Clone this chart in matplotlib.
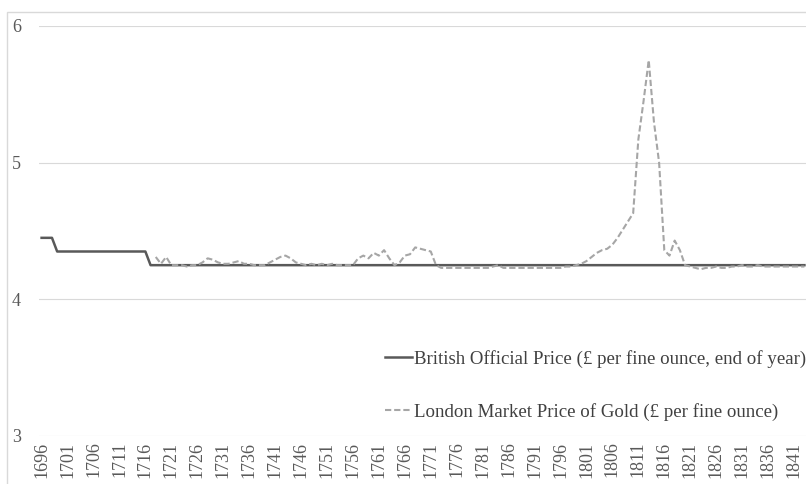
import numpy as np
import matplotlib
matplotlib.use("Agg")
import matplotlib.pyplot as plt
from matplotlib.patches import Rectangle

plt.rcParams['font.family'] = ['Liberation Serif', 'DejaVu Serif']

# categories: one per year
years = list(range(1696, 1844))

# British official price, step changes in 1699 and 1717
official = [4.45, 4.45, 4.45] + [4.35] * 18 + [4.25] * 127

# London market price, starts 1718
market_start = 1718
market = [
    4.31, 4.26, 4.31, 4.25, 4.25, 4.25, 4.24, 4.25, 4.25, 4.27,  # 1718-1727
    4.30, 4.29, 4.27, 4.26, 4.26, 4.27, 4.28, 4.26, 4.26, 4.25,  # 1728-1737
    4.25, 4.25, 4.27, 4.29, 4.31, 4.32, 4.30, 4.27, 4.26, 4.25,  # 1738-1747
    4.26, 4.25, 4.26, 4.25, 4.26, 4.25, 4.25, 4.25, 4.25, 4.30,  # 1748-1757
    4.32, 4.30, 4.34, 4.32, 4.36, 4.30, 4.25, 4.27, 4.32, 4.33,  # 1758-1767
    4.38, 4.37, 4.36, 4.35, 4.25, 4.23, 4.23, 4.23, 4.23, 4.23,  # 1768-1777
    4.23, 4.23, 4.23, 4.23, 4.23, 4.24, 4.25, 4.23, 4.23, 4.23,  # 1778-1787
    4.23, 4.23, 4.23, 4.23, 4.23, 4.23, 4.23, 4.23, 4.23, 4.24,  # 1788-1797
    4.24, 4.25, 4.26, 4.28, 4.31, 4.34, 4.36, 4.37, 4.40, 4.45,  # 1798-1807
    4.51, 4.57, 4.63, 5.17, 5.45, 5.75, 5.30, 5.00, 4.36, 4.32,  # 1808-1817
    4.43, 4.36, 4.25, 4.24, 4.23, 4.22, 4.23, 4.23, 4.24, 4.23,  # 1818-1827
    4.23, 4.24, 4.24, 4.25, 4.24, 4.24, 4.25, 4.24, 4.24, 4.24,  # 1828-1837
    4.24, 4.24, 4.24, 4.24, 4.24, 4.24,                          # 1838-1843
]
market_years = list(range(market_start, market_start + len(market)))

label_official = 'British Official Price (£ per fine ounce, end of year)'
label_market = 'London Market Price of Gold (£ per fine ounce)'

W, H = 806, 484
fig = plt.figure(figsize=(W / 100, H / 100), dpi=100)
ax = fig.add_axes([39 / W, 1 - 436 / H, 768 / W, (436 - 26) / H])

ax.plot(years, official, color='#595959', lw=1.8, label=label_official, zorder=3)
ax.plot(market_years, market, color='#a6a6a6', lw=1.5, linestyle=(0, (3, 1.4)),
        label=label_market, zorder=4)

ax.set_xlim(1695.5, 1843.5)
ax.set_ylim(3, 6)
ax.set_yticks([3, 4, 5, 6])
ax.set_xticks(years[::5])
ax.set_xticklabels([str(y) for y in years[::5]], rotation=90)
ax.tick_params(axis='both', length=0, labelsize=13, labelcolor='#595959')
ax.tick_params(axis='y', pad=13)
ax.tick_params(axis='x', pad=4)
ax.grid(axis='y', color='#d9d9d9', lw=0.8)
ax.set_axisbelow(True)
for s in ax.spines.values():
    s.set_visible(False)

leg = ax.legend(loc='upper left', bbox_to_anchor=(385 / W, 1 - 350 / H),
                bbox_transform=fig.transFigure, frameon=False, fontsize=13.6,
                handlelength=1.45, handletextpad=0.1, labelspacing=1.85,
                borderpad=0, borderaxespad=0)
for t in leg.get_texts():
    t.set_color('#404040')

# chart-area border (cropped on right and bottom)
fig.patches.append(Rectangle((7 / W, -0.1), 1.0, 1 - 12 / H + 0.1,
                             transform=fig.transFigure, fill=False,
                             edgecolor='#d9d9d9', lw=1.0))

fig.savefig('out.png', dpi=100)
